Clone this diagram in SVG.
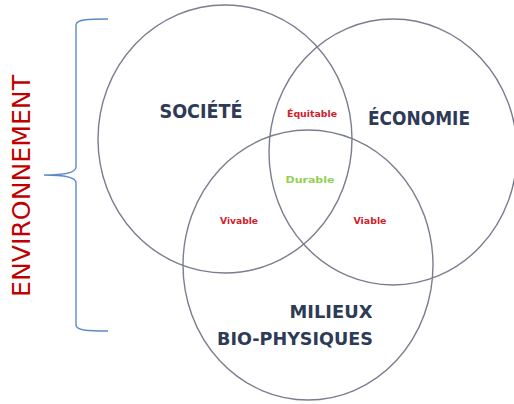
<svg xmlns="http://www.w3.org/2000/svg" width="514" height="404" viewBox="0 0 514 404">
<style>
.c{fill:none;stroke:#7a7d8e;stroke-width:1.4}
.t{font-family:"DejaVu Sans","Liberation Sans",sans-serif;font-weight:bold;fill:#2e3b57;text-anchor:middle}
.s{font-family:"DejaVu Sans","Liberation Sans",sans-serif;font-weight:bold;font-size:9px;text-anchor:middle;fill:#d0202a}
</style>
<rect width="514" height="404" fill="#ffffff"/>
<g id="brace">
<path d="M108,19 C90,19 76,19 76,25 L76,167 C76,174 60,175 44,175 C60,175 76,176 76,183 L76,325 C76,331 90,331 108,331" fill="none" stroke="#5b8bc9" stroke-width="1.4"/>
<text x="22" y="186" transform="rotate(-90 22 186)" dy="8" font-family="'DejaVu Sans','Liberation Sans',sans-serif" font-size="24" fill="#c00000" text-anchor="middle" textLength="222" lengthAdjust="spacingAndGlyphs">ENVIRONNEMENT</text>
</g>
<g id="societe">
<ellipse class="c" cx="225" cy="139" rx="127" ry="134"/>
<text class="t" x="201" y="118" font-size="19" textLength="83" lengthAdjust="spacingAndGlyphs">SOCIÉTÉ</text>
</g>
<g id="economie">
<ellipse class="c" cx="393" cy="152" rx="124" ry="133"/>
<text class="t" x="419" y="125" font-size="19" textLength="102" lengthAdjust="spacingAndGlyphs">ÉCONOMIE</text>
</g>
<g id="milieux">
<ellipse class="c" cx="308" cy="265" rx="125" ry="135"/>
<text class="t" x="331" y="318" font-size="17" textLength="83" lengthAdjust="spacingAndGlyphs">MILIEUX</text>
<text class="t" x="295" y="345" font-size="17" textLength="156" lengthAdjust="spacingAndGlyphs">BIO-PHYSIQUES</text>
</g>
<g id="labels">
<text class="s" x="312" y="117" textLength="50" lengthAdjust="spacingAndGlyphs">Équitable</text>
<text class="s" x="310" y="183" fill="#8fd14f" style="fill:#8fd14f" font-size="10" textLength="49" lengthAdjust="spacingAndGlyphs">Durable</text>
<text class="s" x="239" y="224" textLength="38" lengthAdjust="spacingAndGlyphs">Vivable</text>
<text class="s" x="370" y="224" textLength="33" lengthAdjust="spacingAndGlyphs">Viable</text>
</g>
</svg>
